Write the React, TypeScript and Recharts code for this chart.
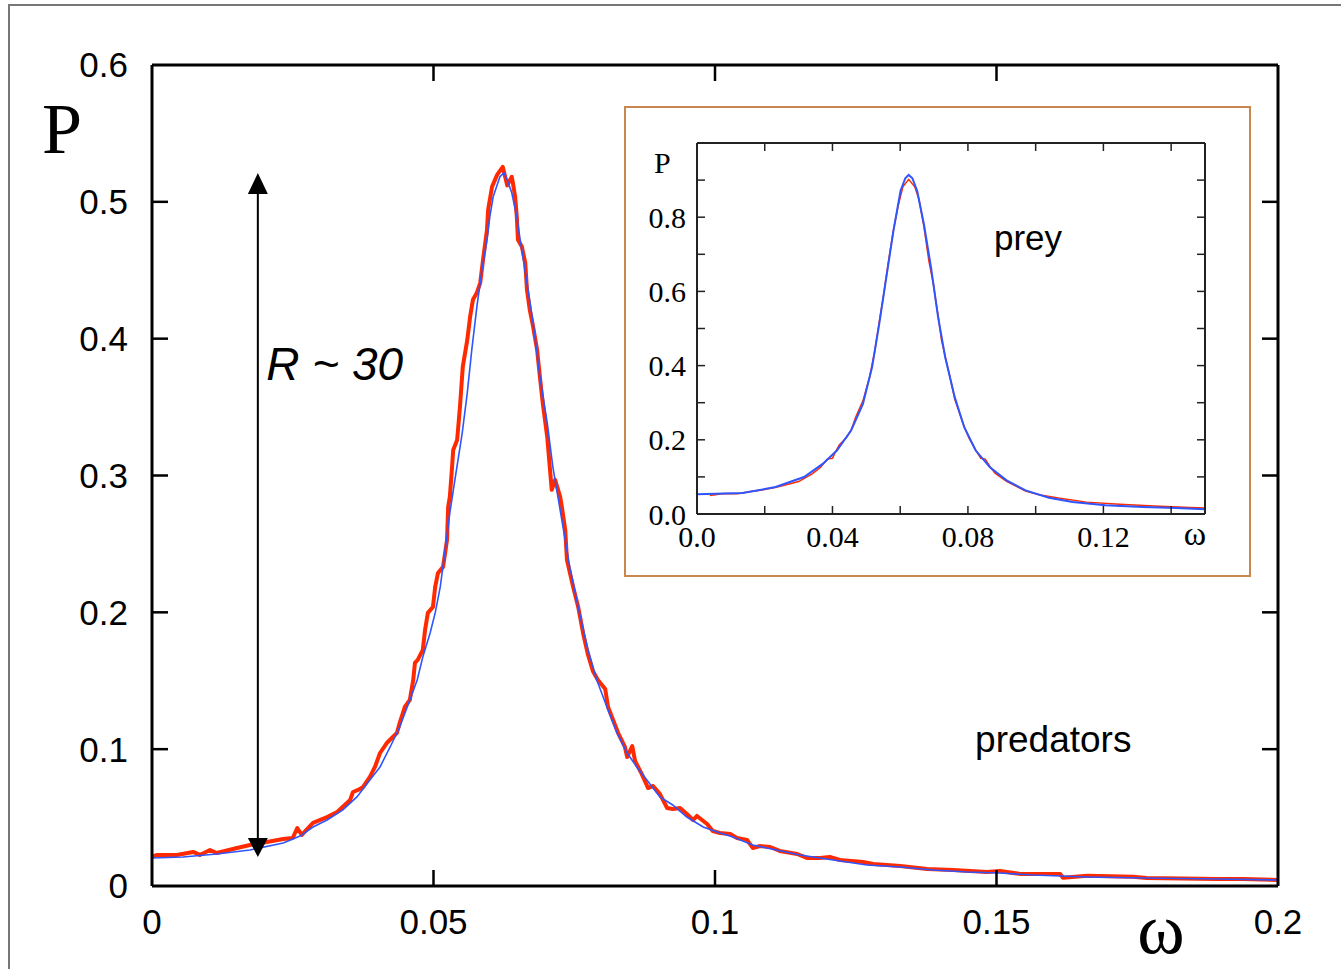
import React from 'react';
import { LineChart, Line, XAxis, YAxis, ReferenceLine, ReferenceDot } from 'recharts';

// ---------- data: predators (main panel) ----------
const predatorsSim: [number, number][] = [
  [0, 0.0212], [0.0009, 0.0227], [0.0044, 0.0227], [0.0073, 0.0249], [0.0085, 0.0227], [0.0103, 0.0263],
  [0.0115, 0.0241], [0.0151, 0.0278], [0.0174, 0.03], [0.0204, 0.0322], [0.0233, 0.0344], [0.025, 0.0351],
  [0.0258, 0.0424], [0.0266, 0.0373], [0.0286, 0.0461], [0.0311, 0.0504], [0.0329, 0.0541], [0.0352, 0.0629],
  [0.0357, 0.0687], [0.0366, 0.0702], [0.0375, 0.0724], [0.0387, 0.0797], [0.0396, 0.087], [0.0405, 0.0972],
  [0.0417, 0.1045], [0.0435, 0.1118], [0.044, 0.1192], [0.0449, 0.1308], [0.0458, 0.136], [0.0464, 0.1506],
  [0.0467, 0.163], [0.0472, 0.1652], [0.0481, 0.1725], [0.0485, 0.1871], [0.049, 0.1996], [0.0499, 0.2039],
  [0.0503, 0.2186], [0.0508, 0.2288], [0.0517, 0.2332], [0.0524, 0.2529], [0.0526, 0.277], [0.0529, 0.2844],
  [0.0533, 0.3063], [0.0535, 0.3187], [0.0542, 0.326], [0.0547, 0.3501], [0.0552, 0.3794], [0.056, 0.3991],
  [0.0565, 0.4159], [0.057, 0.4284], [0.0577, 0.4335], [0.0583, 0.4408], [0.0588, 0.4576], [0.0595, 0.4795],
  [0.0597, 0.4942], [0.0604, 0.511], [0.0613, 0.5197], [0.0623, 0.5256], [0.0631, 0.512], [0.0639, 0.5183],
  [0.0641, 0.5139], [0.0645, 0.5037], [0.0648, 0.489], [0.065, 0.4722], [0.0657, 0.4671], [0.0663, 0.4554],
  [0.0666, 0.4357], [0.0671, 0.4211], [0.0677, 0.4086], [0.0684, 0.3918], [0.0689, 0.3721], [0.0694, 0.3531],
  [0.0702, 0.3282], [0.0707, 0.304], [0.071, 0.2895], [0.0716, 0.2968], [0.0725, 0.2844], [0.0728, 0.277],
  [0.0734, 0.2602], [0.0737, 0.2383], [0.0748, 0.2186], [0.0757, 0.2039], [0.0766, 0.1842], [0.0774, 0.1696],
  [0.0783, 0.1572], [0.0792, 0.1506], [0.0805, 0.144], [0.081, 0.1308], [0.0819, 0.1213], [0.0828, 0.1118],
  [0.084, 0.1016], [0.0844, 0.0943], [0.0853, 0.1023], [0.0858, 0.0914], [0.087, 0.0818], [0.0881, 0.0716],
  [0.089, 0.0731], [0.0902, 0.0673], [0.0915, 0.057], [0.0925, 0.0563], [0.0938, 0.057], [0.095, 0.0526],
  [0.0961, 0.0482], [0.0968, 0.0512], [0.0986, 0.0453], [0.0996, 0.0402], [0.1009, 0.0387], [0.1027, 0.038],
  [0.1039, 0.0351], [0.1057, 0.0336], [0.1067, 0.0278], [0.108, 0.0292], [0.1098, 0.0285], [0.1115, 0.0256],
  [0.1146, 0.0234], [0.1163, 0.0205], [0.1186, 0.0205], [0.1204, 0.0212], [0.1222, 0.019], [0.1263, 0.0175],
  [0.1281, 0.0161], [0.1329, 0.0146], [0.1377, 0.0124], [0.1423, 0.0117], [0.1483, 0.0102], [0.1506, 0.011],
  [0.1542, 0.0088], [0.1565, 0.0088], [0.1613, 0.0088], [0.1618, 0.006], [0.1661, 0.0075], [0.1742, 0.0068],
  [0.1767, 0.0058], [0.1892, 0.0051], [0.1938, 0.0051], [0.2, 0.0044],
];

const predatorsFit: [number, number][] = [
  [0, 0.0205], [0.0055, 0.0212], [0.0115, 0.0234], [0.0174, 0.0263], [0.0233, 0.0314], [0.0263, 0.0365],
  [0.0286, 0.0431], [0.0311, 0.0482], [0.0339, 0.0556], [0.0364, 0.0651], [0.0387, 0.0775], [0.0405, 0.087],
  [0.0423, 0.1016], [0.044, 0.1162], [0.0458, 0.136], [0.0471, 0.1506], [0.0481, 0.1674], [0.0494, 0.1849],
  [0.0503, 0.1996], [0.0512, 0.2186], [0.052, 0.2434], [0.0529, 0.2727], [0.0538, 0.2968], [0.0551, 0.331],
  [0.056, 0.3604], [0.0568, 0.3918], [0.0577, 0.4232], [0.0586, 0.4503], [0.0595, 0.4722], [0.06, 0.489],
  [0.0606, 0.5037], [0.0618, 0.5183], [0.0625, 0.5212], [0.0631, 0.516], [0.0639, 0.5066], [0.0648, 0.489],
  [0.0654, 0.4722], [0.0666, 0.4408], [0.0677, 0.4115], [0.0689, 0.3721], [0.0702, 0.3385], [0.0712, 0.3063],
  [0.0721, 0.2844], [0.073, 0.2624], [0.0742, 0.2332], [0.0757, 0.2039], [0.0773, 0.1747], [0.079, 0.1506],
  [0.0808, 0.1308], [0.0826, 0.1118], [0.0844, 0.0972], [0.0861, 0.087], [0.0879, 0.0775], [0.0902, 0.0651],
  [0.0925, 0.0592], [0.095, 0.0504], [0.0979, 0.0431], [0.1009, 0.0387], [0.1032, 0.0358], [0.1067, 0.03],
  [0.1092, 0.0278], [0.1151, 0.0227], [0.121, 0.019], [0.127, 0.0154], [0.1329, 0.0139], [0.1387, 0.0117],
  [0.1448, 0.0102], [0.1506, 0.0095], [0.1565, 0.008], [0.1661, 0.0066], [0.1767, 0.0058], [0.1892, 0.0051],
  [0.2, 0.0044],
];

// ---------- data: prey (inset) ----------
const preySim: [number, number][] = [
  [0.0038, 0.05], [0.0079, 0.0555], [0.012, 0.0545], [0.0149, 0.0595], [0.0204, 0.0665], [0.023, 0.0715],
  [0.0246, 0.0745], [0.0275, 0.0815], [0.03, 0.0875], [0.034, 0.108], [0.0365, 0.126], [0.0385, 0.148],
  [0.04, 0.15], [0.0406, 0.162], [0.042, 0.186], [0.044, 0.205], [0.0455, 0.226], [0.0469, 0.262],
  [0.049, 0.305], [0.051, 0.37], [0.0525, 0.44], [0.0538, 0.518], [0.055, 0.585], [0.0566, 0.685],
  [0.058, 0.765], [0.0595, 0.835], [0.0608, 0.882], [0.0625, 0.902], [0.0643, 0.882], [0.0655, 0.85],
  [0.067, 0.775], [0.0685, 0.68], [0.0698, 0.62], [0.0705, 0.575], [0.0712, 0.535], [0.0722, 0.468],
  [0.0733, 0.425], [0.0748, 0.365], [0.0761, 0.31], [0.0775, 0.272], [0.0789, 0.236], [0.0803, 0.205],
  [0.0823, 0.172], [0.0838, 0.15], [0.0851, 0.148], [0.0865, 0.128], [0.088, 0.11], [0.0914, 0.088],
  [0.097, 0.062], [0.101, 0.052], [0.1067, 0.043], [0.115, 0.032], [0.1248, 0.0265], [0.135, 0.0215],
  [0.1456, 0.0175], [0.15, 0.016],
];

const preyFit: [number, number][] = [
  [0, 0.053], [0.0135, 0.0565], [0.0232, 0.0726], [0.0316, 0.0996], [0.0371, 0.135], [0.0413, 0.171],
  [0.0455, 0.225], [0.049, 0.297], [0.0517, 0.396], [0.0538, 0.512], [0.0559, 0.638], [0.058, 0.763],
  [0.0601, 0.871], [0.0615, 0.905], [0.0625, 0.914], [0.0636, 0.905], [0.065, 0.871], [0.067, 0.781],
  [0.0691, 0.665], [0.0712, 0.53], [0.0733, 0.422], [0.0761, 0.315], [0.0789, 0.234], [0.0823, 0.171],
  [0.0865, 0.126], [0.0914, 0.0906], [0.097, 0.0637], [0.1039, 0.044], [0.1109, 0.0323], [0.1206, 0.0233],
  [0.1317, 0.0188], [0.1415, 0.0161], [0.15, 0.0126],
];

// ---------- ticks & annotations ----------
const mainXTicks = [0, 0.05, 0.1, 0.15, 0.2];
const mainYTicks = [0, 0.1, 0.2, 0.3, 0.4, 0.5, 0.6];
const mainXMarks = [0.05, 0.1, 0.15];
const mainYMarks = [0.1, 0.2, 0.3, 0.4, 0.5];
const insetXTicks = [0, 0.04, 0.08, 0.12];
const insetXMarks = [0.02, 0.04, 0.06, 0.08, 0.1, 0.12, 0.14];
const insetYTicks = [0, 0.2, 0.4, 0.6, 0.8];
const insetYMarks = [0.1, 0.2, 0.3, 0.4, 0.5, 0.6, 0.7, 0.8, 0.9];

const arrowOmega = 0.0188;
const arrowLow = 0.0212;
const arrowHigh = 0.521;
const ratioText = 'R ~ 30';
const ratioAt = { w: 0.0203, p: 0.37 };
const predatorsText = 'predators';
const predatorsAt = { w: 0.1462, p: 0.098 };
const preyText = 'prey';
const preyAt = { w: 0.0877, p: 0.712 };

const toRows = (pairs: [number, number][]) => pairs.map(([w, p]) => ({ w, p }));

const SANS = "'Liberation Sans', Arial, Helvetica, sans-serif";
const SERIF = "'Liberation Serif', 'Times New Roman', Times, serif";
const RED = '#ff2a00';
const BLUE = '#2f55ff';

const OmegaMain = (props: any) => {
  const vb = props.viewBox || { x: 0, y: 0 };
  return (
    <text x={vb.x + 1009} y={vb.y + 67} textAnchor="middle" fontFamily={SERIF} fontSize={72} fill="#000">
      ω
    </text>
  );
};
const PMain = (props: any) => {
  const vb = props.viewBox || { x: 0, y: 0 };
  return (
    <text x={vb.x - 50} y={vb.y + 88} textAnchor="start" fontFamily={SERIF} fontSize={72} fill="#000">
      P
    </text>
  );
};
const OmegaInset = (props: any) => {
  const vb = props.viewBox || { x: 0, y: 0 };
  return (
    <text x={vb.x + 498} y={vb.y + 31} textAnchor="middle" fontFamily={SERIF} fontSize={34} fill="#000">
      ω
    </text>
  );
};
const PInset = (props: any) => {
  const vb = props.viewBox || { x: 0, y: 0 };
  return (
    <text x={vb.x + 7} y={vb.y + 30} textAnchor="start" fontFamily={SERIF} fontSize={30} fill="#000">
      P
    </text>
  );
};

const fmtInsetX = (v: number) => (v === 0 ? '0.0' : String(v));
const fmtInsetY = (v: number) => v.toFixed(1);
const blank = () => '';

export default function App() {
  const tickMark = { stroke: '#000', strokeWidth: 2.5 };
  const frame = { stroke: '#000', strokeWidth: 3 };
  const insetMark = { stroke: '#222', strokeWidth: 1.5 };
  const insetFrame = { stroke: '#222', strokeWidth: 2 };
  const noText = { fontSize: 1, fill: 'none' };
  return (
    <div style={{ position: 'absolute', left: 0, top: 0, width: 1341, height: 969, background: '#fff', overflow: 'hidden' }}>
      <LineChart width={1341} height={969} margin={{ top: 65, right: 63, bottom: 33, left: 92 }}>
        <XAxis
          dataKey="w" type="number" domain={[0, 0.2]} allowDataOverflow ticks={mainXTicks}
          tickFormatter={(v: number) => String(v)} tickLine={false} tickSize={0} tickMargin={23} height={50}
          axisLine={frame} tick={{ fill: '#000', fontSize: 35, fontFamily: SANS }} interval={0}
          label={{ content: OmegaMain }}
        />
        <XAxis
          xAxisId="bm" dataKey="w" type="number" domain={[0, 0.2]} allowDataOverflow ticks={mainXMarks}
          mirror tick={noText} tickFormatter={blank} tickSize={16} tickLine={tickMark} axisLine={false} interval={0}
        />
        <XAxis
          xAxisId="tm" orientation="top" dataKey="w" type="number" domain={[0, 0.2]} allowDataOverflow
          ticks={mainXMarks} mirror tick={noText} tickFormatter={blank} tickSize={16} tickLine={tickMark}
          axisLine={frame} interval={0}
        />
        <YAxis
          dataKey="p" type="number" domain={[0, 0.6]} allowDataOverflow ticks={mainYTicks}
          tickFormatter={(v: number) => String(v)} tickLine={false} tickSize={0} tickMargin={24} width={60}
          axisLine={frame} tick={{ fill: '#000', fontSize: 35, fontFamily: SANS }} interval={0}
          label={{ content: PMain }}
        />
        <YAxis
          yAxisId="lm" type="number" domain={[0, 0.6]} allowDataOverflow ticks={mainYMarks}
          mirror tick={noText} tickFormatter={blank} tickSize={16} tickLine={tickMark} axisLine={false} interval={0}
        />
        <YAxis
          yAxisId="rm" orientation="right" type="number" domain={[0, 0.6]} allowDataOverflow ticks={mainYMarks}
          mirror tick={noText} tickFormatter={blank} tickSize={16} tickLine={tickMark} axisLine={frame} interval={0}
        />
        <ReferenceLine
          segment={[{ x: arrowOmega, y: arrowLow + 0.012 }, { x: arrowOmega, y: arrowHigh - 0.012 }]}
          stroke="#000" strokeWidth={2}
        />
        <ReferenceDot
          x={arrowOmega} y={arrowHigh} r={0}
          shape={(p: any) => (
            <polygon points={`${p.cx},${p.cy} ${p.cx - 10},${p.cy + 21} ${p.cx + 10},${p.cy + 21}`} fill="#000" />
          )}
        />
        <ReferenceDot
          x={arrowOmega} y={arrowLow} r={0}
          shape={(p: any) => (
            <polygon points={`${p.cx},${p.cy} ${p.cx - 10},${p.cy - 19} ${p.cx + 10},${p.cy - 19}`} fill="#000" />
          )}
        />
        <ReferenceDot
          x={ratioAt.w} y={ratioAt.p} r={0}
          shape={(p: any) => (
            <text x={p.cx} y={p.cy} fontFamily={SANS} fontStyle="italic" fontSize={46} fill="#000">
              {ratioText}
            </text>
          )}
        />
        <ReferenceDot
          x={predatorsAt.w} y={predatorsAt.p} r={0}
          shape={(p: any) => (
            <text x={p.cx} y={p.cy} fontFamily={SANS} fontSize={37} fill="#000">
              {predatorsText}
            </text>
          )}
        />
        <Line
          data={toRows(predatorsSim)} dataKey="p" type="linear" stroke={RED} strokeWidth={4}
          dot={false} isAnimationActive={false} strokeLinejoin="round"
        />
        <Line
          data={toRows(predatorsFit)} dataKey="p" type="linear" stroke={BLUE} strokeWidth={1.6}
          dot={false} isAnimationActive={false}
        />
      </LineChart>

      <div
        style={{
          position: 'absolute', left: 8, top: 4, width: 1345, height: 975, pointerEvents: 'none',
          borderTop: '2px solid #777', borderLeft: '2px solid #777', boxSizing: 'border-box',
        }}
      />

      <div
        style={{
          position: 'absolute', left: 624, top: 106, width: 627, height: 471,
          border: '2px solid #c8874c', boxSizing: 'border-box', background: '#fff',
        }}
      >
        <LineChart width={623} height={467} margin={{ top: 35, right: 44, bottom: 21, left: 21 }}>
          <XAxis
            dataKey="w" type="number" domain={[0, 0.15]} allowDataOverflow ticks={insetXTicks}
            tickFormatter={fmtInsetX} tickLine={false} tickSize={0} tickMargin={12} height={40}
            axisLine={insetFrame} tick={{ fill: '#000', fontSize: 30, fontFamily: SERIF }} interval={0}
            label={{ content: OmegaInset }}
          />
          <XAxis
            xAxisId="bm" dataKey="w" type="number" domain={[0, 0.15]} allowDataOverflow ticks={insetXMarks}
            mirror tick={noText} tickFormatter={blank} tickSize={8} tickLine={insetMark} axisLine={false} interval={0}
          />
          <XAxis
            xAxisId="tm" orientation="top" dataKey="w" type="number" domain={[0, 0.15]} allowDataOverflow
            ticks={insetXMarks} mirror tick={noText} tickFormatter={blank} tickSize={8} tickLine={insetMark}
            axisLine={insetFrame} interval={0}
          />
          <YAxis
            dataKey="p" type="number" domain={[0, 1]} allowDataOverflow ticks={insetYTicks}
            tickFormatter={fmtInsetY} tickLine={false} tickSize={0} tickMargin={11} width={50}
            axisLine={insetFrame} tick={{ fill: '#000', fontSize: 30, fontFamily: SERIF }} interval={0}
            label={{ content: PInset }}
          />
          <YAxis
            yAxisId="lm" type="number" domain={[0, 1]} allowDataOverflow ticks={insetYMarks}
            mirror tick={noText} tickFormatter={blank} tickSize={8} tickLine={insetMark} axisLine={false} interval={0}
          />
          <YAxis
            yAxisId="rm" orientation="right" type="number" domain={[0, 1]} allowDataOverflow ticks={insetYMarks}
            mirror tick={noText} tickFormatter={blank} tickSize={8} tickLine={insetMark} axisLine={insetFrame} interval={0}
          />
          <ReferenceDot
            x={preyAt.w} y={preyAt.p} r={0}
            shape={(p: any) => (
              <text x={p.cx} y={p.cy} fontFamily={SANS} fontSize={35} fill="#000">
                {preyText}
              </text>
            )}
          />
          <Line
            data={toRows(preySim)} dataKey="p" type="linear" stroke={RED} strokeWidth={1.5}
            dot={false} isAnimationActive={false}
          />
          <Line
            data={toRows(preyFit)} dataKey="p" type="linear" stroke={BLUE} strokeWidth={2}
            dot={false} isAnimationActive={false}
          />
        </LineChart>
      </div>
    </div>
  );
}
